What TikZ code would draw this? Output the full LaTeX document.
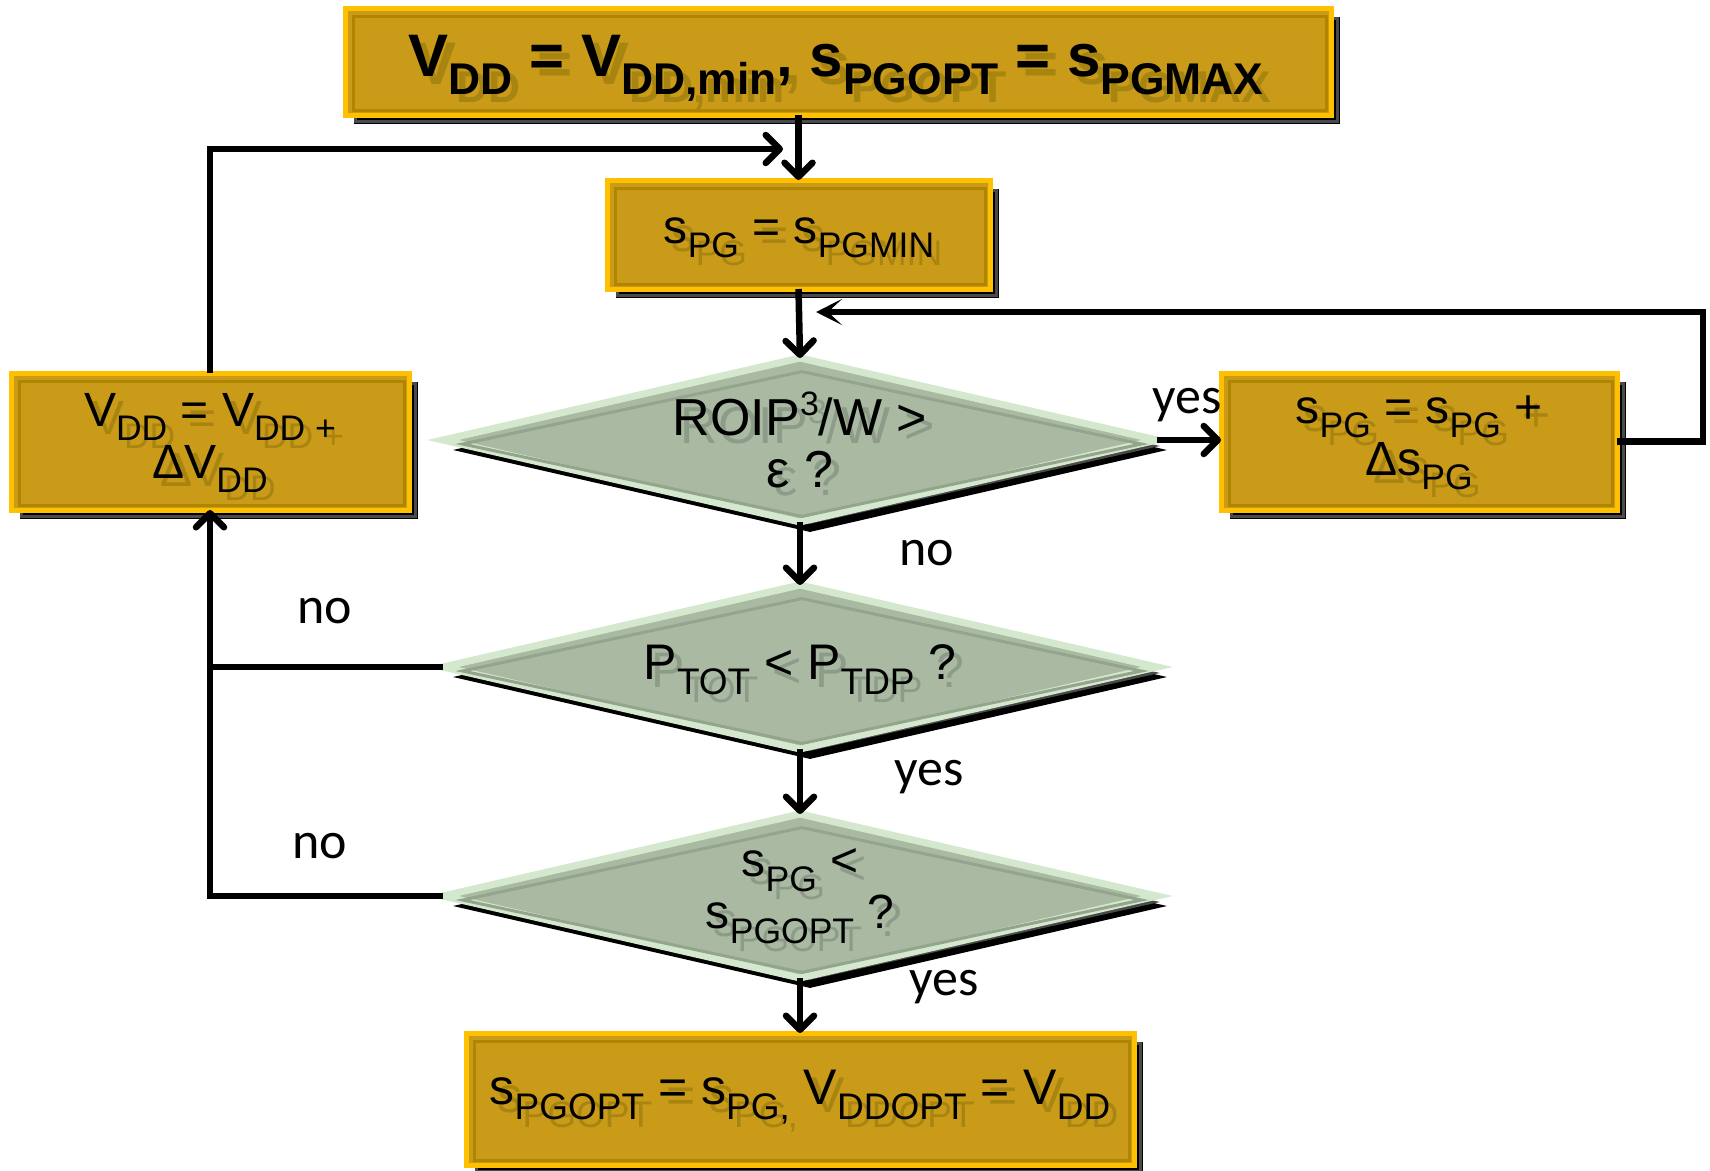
\documentclass[tikz,border=0pt]{standalone}
\usepackage{fontspec}
\usepackage{graphicx}
\setmainfont{Liberation Sans}
\newfontfamily\lblf{Carlito}
\usetikzlibrary{shapes.geometric,arrows.meta,calc}
\definecolor{gold}{HTML}{C99B18}
\definecolor{goldedge}{HTML}{FFC000}
\definecolor{goldin}{HTML}{B08600}
\definecolor{goldsh}{HTML}{A88410}
\definecolor{sage}{HTML}{A9B9A2}
\definecolor{sageedge}{HTML}{D3E8CC}
\definecolor{sagein}{HTML}{94A58D}
\definecolor{sagesh}{HTML}{8D9C88}
\definecolor{shgray}{HTML}{4A4A4A}
\newcommand\sbx[1]{\raisebox{-0.3em}{\scalebox{0.74}{#1}}}
\newcommand\spx[1]{\raisebox{0.4em}{\scalebox{0.65}{#1}}}
% name, x1, y1, x2, y2
\newcommand\goldbox[5]{%
  \fill[black] (#2+9,#3+9) rectangle (#4+9,#5+9);
  \draw[shgray, line width=3pt] (#2+10,#3+10) rectangle (#4+6,#5+6);
  \node[gboxst, minimum width=#4-#2, minimum height=#5-#3] (#1) at ({(#2+#4)/2},{(#3+#5)/2}) {};
  \draw[goldin, line width=3pt] (#2+8,#3+8) rectangle (#4-5,#5-5);
}
% name, cx, cy
\newcommand\sagediam[3]{%
  \node[diamond, fill=black, minimum width=714, minimum height=164, inner sep=0pt] (#1s) at (#2+10,#3+10) {};
  \node[diamond, fill=shgray, minimum width=700, minimum height=156, inner sep=0pt] (#1g) at (#2+10,#3+6) {};
  \node[dstyle] (#1) at (#2,#3) {};
  \node[diamond, draw=sagein, line width=3pt, minimum width=680, minimum height=146, inner sep=0pt] (#1i) at (#2+2,#3+4) {};
}
% name, x, y, shadow colour, font, text
\newcommand\twintext[6]{%
  \node[txst, text=#4, font=#5] (#1s) at (#2+8,#3+8) {#6};
  \node[txst, font=#5] (#1) at (#2,#3) {#6};
}
\begin{document}
\begin{tikzpicture}[x=1pt,y=-1pt,
  gboxst/.style={rectangle, fill=gold, draw=goldedge, line width=5pt, inner sep=0pt, outer sep=0pt},
  dstyle/.style={diamond, fill=sage, draw=sageedge, line width=7pt, minimum width=714, minimum height=164, inner sep=0pt, outer sep=0pt},
  txst/.style={align=center, inner sep=0pt},
  lbl/.style={font=\lblf\fontsize{52}{52}\selectfont, inner sep=0pt},
  conn/.style={line width=6.5pt, line join=miter},
  arr/.style={conn, -{Straight Barb[length=14pt,width=28pt,round]}},
  arrb/.style={conn, -{Stealth[length=26pt,width=26pt,inset=14pt]}}]
\useasboundingbox (0,0) rectangle (1710,1170);
\fill[white] (0,0) rectangle (1710,1170);

% boxes
\goldbox{top}{345}{8}{1331}{115}
\goldbox{spg}{607}{180}{990}{289}
\goldbox{vbox}{11}{373}{409}{510}
\goldbox{rbox}{1221}{373}{1617}{510}
\goldbox{bot}{466}{1033}{1134}{1165}

% diamonds
\sagediam{d1}{800}{440}
\sagediam{d2}{800}{667}
\sagediam{d3}{800}{896}

% texts
\twintext{ttop}{836}{68}{goldsh}{\bfseries\fontsize{60}{62}\selectfont}{V\sbx{DD} = V\sbx{DD,min}, s\sbx{PGOPT} = s\sbx{PGMAX}}
\twintext{tspg}{799}{238}{goldsh}{\fontsize{48}{50}\selectfont}{s\sbx{PG} = s\sbx{PGMIN}}
\twintext{tvbox}{210}{443}{goldsh}{\fontsize{48}{52}\selectfont}{V\sbx{DD} = V\sbx{DD +}\\ΔV\sbx{DD}}
\twintext{trbox}{1419}{443}{goldsh}{\fontsize{48}{52}\selectfont}{s\sbx{PG} = s\sbx{PG} +\\Δs\sbx{PG}}
\twintext{td1}{800}{440}{sagesh}{\fontsize{52}{52}\selectfont}{ROIP\spx{3}/W >\\ε ?}
\twintext{td2}{800}{670}{sagesh}{\fontsize{50}{52}\selectfont}{P\sbx{TOT} < P\sbx{TDP} ?}
\twintext{td3}{800}{896}{sagesh}{\fontsize{48}{52}\selectfont}{s\sbx{PG} <\\s\sbx{PGOPT} ?}
\twintext{tbot}{800}{1097}{goldsh}{\fontsize{50}{52}\selectfont}{s\sbx{PGOPT} = s\sbx{PG,} V\sbx{DDOPT} = V\sbx{DD}}

% connector endpoints
\coordinate (lj) at (783,149);
\coordinate (rj) at (816,312);
\coordinate (j2) at (d2.west -| vbox.south);

% connectors
\draw[arr] (top.south -| spg.north) -- (spg.north);
\draw[arr] (vbox.north) |- (lj);
\draw[arr] (spg.south) -- (d1.north);
\draw[arrb] (rbox.east) -- ++(86,0) |- (rj);
\draw[arr] (d1.east) -- (d1.east -| rbox.west);
\draw[arr] (d1.south) -- (d2.north);
\draw[arr] (d2.west) -| (vbox.south);
\draw[conn] (d3.west) -| (j2);
\draw[arr] (d2.south) -- (d3.north);
\draw[arr] (d3.south) -- (bot.north);

% labels
\node[lbl] (l1) at (1187,405) {yes};
\node[lbl] (l2) at (927,553) {no};
\node[lbl] (l3) at (325,611) {no};
\node[lbl] (l4) at (929,777) {yes};
\node[lbl] (l5) at (320,846) {no};
\node[lbl] (l6) at (944,987) {yes};
\end{tikzpicture}
\end{document}
